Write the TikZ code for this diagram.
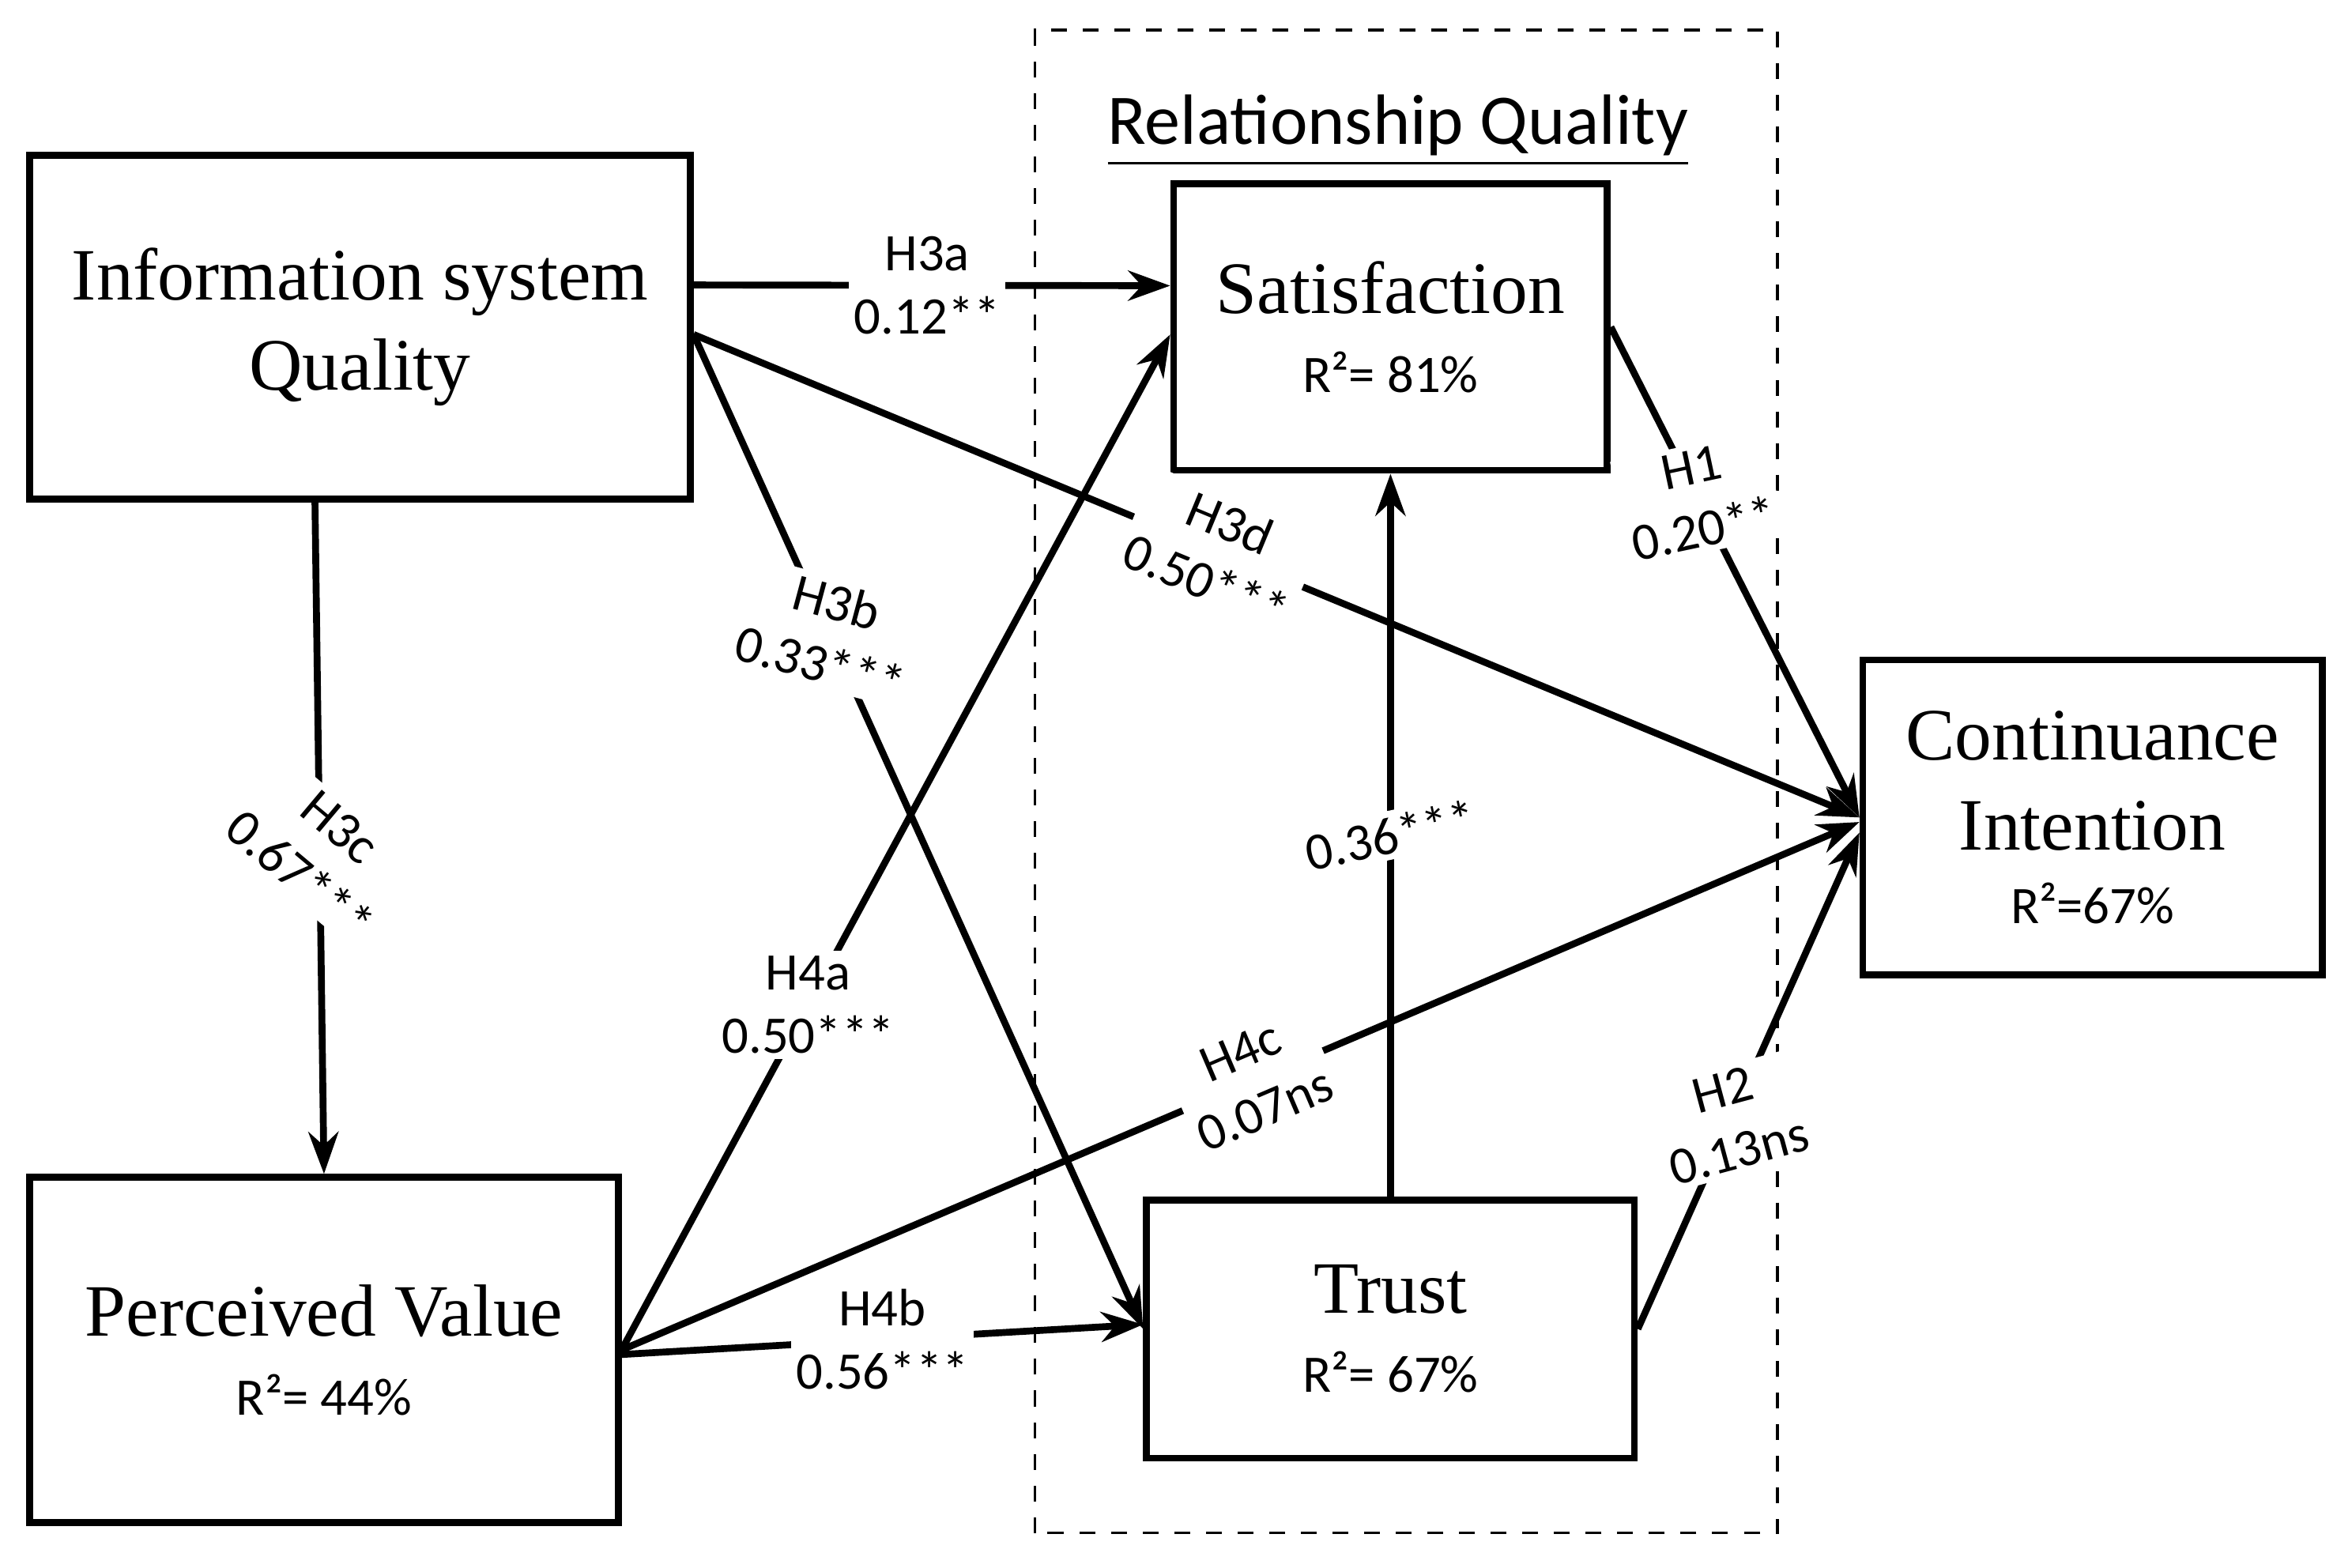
\documentclass[tikz,border=0pt]{standalone}
\usepackage{fontspec}
\setmainfont{Liberation Serif}
\newfontfamily\lab{Carlito}
\usetikzlibrary{arrows.meta,calc}
\begin{document}
\begin{tikzpicture}[x=0.01cm,y=0.01cm,
 box/.style={draw,line width=1.3pt,inner sep=0pt,align=center,font=\fontsize{14}{17}\selectfont},
 arr/.style={line width=1.3pt,-{Stealth[length=0.28cm,width=0.2cm]}},
 lb/.style={fill=white,inner sep=1pt,align=center,font=\lab\fontsize{10}{12}\selectfont}]
\useasboundingbox (0,0) rectangle (1568,1045);
\draw[dashed,line width=0.5pt] (690,23) rectangle (1185,1025);
\node[font=\lab\fontsize{13.5}{15}\selectfont] (rq) at (932,958) {\underline{Relationship Quality}};
\node[box,minimum width=4.4cm,minimum height=2.29cm] (ISQ) at (240,827) {Information system\\Quality};
\node[box,minimum width=3.92cm,minimum height=2.3cm] (PV) at (216,145) {Perceived Value\\[-2pt]{\lab\fontsize{10}{12}\selectfont R²= 44\%}};
\node[box,minimum width=2.89cm,minimum height=1.91cm] (Sat) at (927,827) {Satisfaction\\[-2pt]{\lab\fontsize{10}{12}\selectfont R²= 81\%}};
\node[box,minimum width=3.25cm,minimum height=1.72cm] (Tr) at (927,159) {Trust\\[-2pt]{\lab\fontsize{10}{12}\selectfont R²= 67\%}};
\node[box,minimum width=3.06cm,minimum height=2.1cm] (CI) at (1395,500) {Continuance\\Intention\\[-3pt]{\lab\fontsize{10}{12}\selectfont R²=67\%}};
\draw[arr] ([yshift=0.28cm]ISQ.east) -- node[lb,pos=0.49]{H3a\\0.12**} ([yshift=0.275cm]Sat.west);
\draw[arr] ([yshift=-0.05cm]ISQ.east) -- node[lb,pos=0.45,sloped]{H3d\\0.50***} (CI.west);
\draw[arr] ([yshift=-0.05cm]ISQ.east) -- node[lb,pos=0.3,rotate=-15]{H3b\\0.33***} (Tr.west);
\draw[arr] ([xshift=-0.3cm]ISQ.south) -- node[lb,pos=0.52,rotate=-40]{H3c\\0.67***} (PV.north);
\draw[arr] (PV.east) -- node[lb,pos=0.34]{H4a\\0.50***} ([yshift=-0.05cm]Sat.west);
\draw[arr] (PV.east) -- node[lb,pos=0.51,sloped]{H4c\\0.07ns} ([yshift=-0.03cm]CI.west);
\draw[arr] ([yshift=-0.03cm]PV.east) -- node[lb,pos=0.5]{H4b\\0.56***} ([yshift=0.03cm]Tr.west);
\draw[arr] (Tr.north) -- node[lb,pos=0.5,rotate=12]{0.36***} (Sat.south);
\draw[arr] (Sat.east) -- node[lb,pos=0.35,rotate=12]{H1\\0.20**} (CI.west);
\draw[arr] (Tr.east) -- node[lb,pos=0.42,rotate=15]{H2\\0.13ns} ([yshift=-0.1cm]CI.west);
\end{tikzpicture}
\end{document}
